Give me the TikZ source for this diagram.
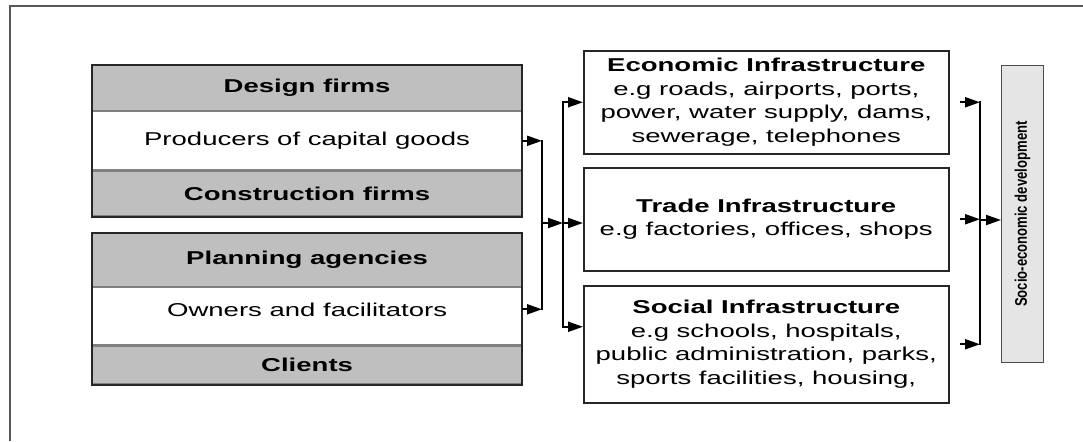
\documentclass[tikz,border=0pt]{standalone}
\usepackage{fontspec}
\setmainfont[FakeStretch=1.48]{Liberation Sans}
\newfontfamily\narrowsans[FakeStretch=0.78]{Liberation Sans}
\usetikzlibrary{positioning,arrows.meta}

\begin{document}
\begin{tikzpicture}[x=0.5pt, y=-0.5pt,
    font=\fontsize{9.3}{11.75}\selectfont,
    headrow/.style={fill=black!25, draw=black!50, line width=0.6pt, minimum width=214.5pt, inner sep=0pt, font=\fontsize{9.3}{11.75}\selectfont\bfseries},
    bodyrow/.style={fill=white, draw=black!50, line width=0.6pt, minimum width=214.5pt, inner sep=0pt},
    infrabox/.style={draw=black!85, line width=0.75pt, minimum width=182.5pt, align=center, inner sep=0pt},
    flow/.style={line width=1pt, -{Triangle[length=7.5pt, width=5pt]}},
    bracket/.style={line width=1pt, line cap=rect}]
    \useasboundingbox (0,0) rectangle (1083,441);

    % Page frame (top and left edges only)
    \draw[black!65, line width=0.8pt] (10,441) -- (10,6) -- (1083,6);

    % Firms stacked around the producers
    \node[headrow, minimum height=22.5pt, anchor=north west] (design) at (92,65) {Design firms};
    \node[bodyrow, minimum height=29pt, below=0pt of design] (producers) {Producers of capital goods};
    \node[headrow, minimum height=22.5pt, below=0pt of producers] (construction) {Construction firms};
    \draw[black!85, line width=0.9pt] (design.north west) rectangle (construction.south east);

    % Agencies and clients around the owners
    \node[headrow, minimum height=26.5pt, anchor=north west] (planning) at (92,233) {Planning agencies};
    \node[bodyrow, minimum height=28.5pt, text depth=7pt, below=0pt of planning] (owners) {Owners and facilitators};
    \node[headrow, minimum height=19pt, below=0pt of owners] (clients) {Clients};
    \draw[black!85, line width=0.9pt] (planning.north west) rectangle (clients.south east);

    % Kinds of infrastructure
    \node[infrabox, minimum height=51.5pt, anchor=north west] (econ) at (583,50)
        {\textbf{Economic Infrastructure}\\e.g roads, airports, ports,\\power, water supply, dams,\\sewerage, telephones};
    \node[infrabox, minimum height=51.5pt, anchor=north west] (trade) at (583,167)
        {\textbf{Trade Infrastructure}\\e.g factories, offices, shops};
    \node[infrabox, minimum height=58.5pt, anchor=north west] (social) at (583,285)
        {\textbf{Social Infrastructure}\\e.g schools, hospitals,\\public administration, parks,\\sports facilities, housing,};

    % Outcome bar
    \node[draw=black!70, fill=black!10, line width=0.6pt, minimum width=21pt, minimum height=148.5pt, inner sep=0pt, anchor=north west] (devel) at (1001,65)
        {\rotatebox{90}{\narrowsans\bfseries\fontsize{8.4}{10}\selectfont Socio-economic development}};

    % Junction points of the brackets
    \coordinate (joinA) at (542,223);
    \coordinate (joinB) at (563,223);
    \coordinate (joinC) at (980,220);
    \coordinate (socialin) at ([yshift=8.75pt]social.west);
    \coordinate (ownersout) at ([yshift=3.5pt]owners.east);

    % Actors feed the infrastructure
    \draw[flow] (producers.east) -- (producers.east -| joinA);
    \draw[flow] (ownersout) -- (ownersout -| joinA);
    \draw[bracket] (producers.east -| joinA) -- (ownersout -| joinA);
    \draw[flow] (joinA) -- (joinB);
    \draw[bracket] (joinB |- econ.west) -- (joinB |- socialin);
    \draw[flow] (joinB |- econ.west) -- (econ.west);
    \draw[flow] (joinB) -- (joinB -| trade.west);
    \draw[flow] (joinB |- socialin) -- (socialin);

    % Infrastructure leads to development
    \draw[flow] ([xshift=5pt]econ.east) -- (econ.east -| joinC);
    \draw[flow] ([xshift=5pt]trade.east) -- (trade.east -| joinC);
    \draw[flow] ([xshift=5pt]social.east) -- (social.east -| joinC);
    \draw[bracket] (econ.east -| joinC) -- (social.east -| joinC);
    \draw[flow] (joinC) -- (joinC -| devel.west);
\end{tikzpicture}
\end{document}
